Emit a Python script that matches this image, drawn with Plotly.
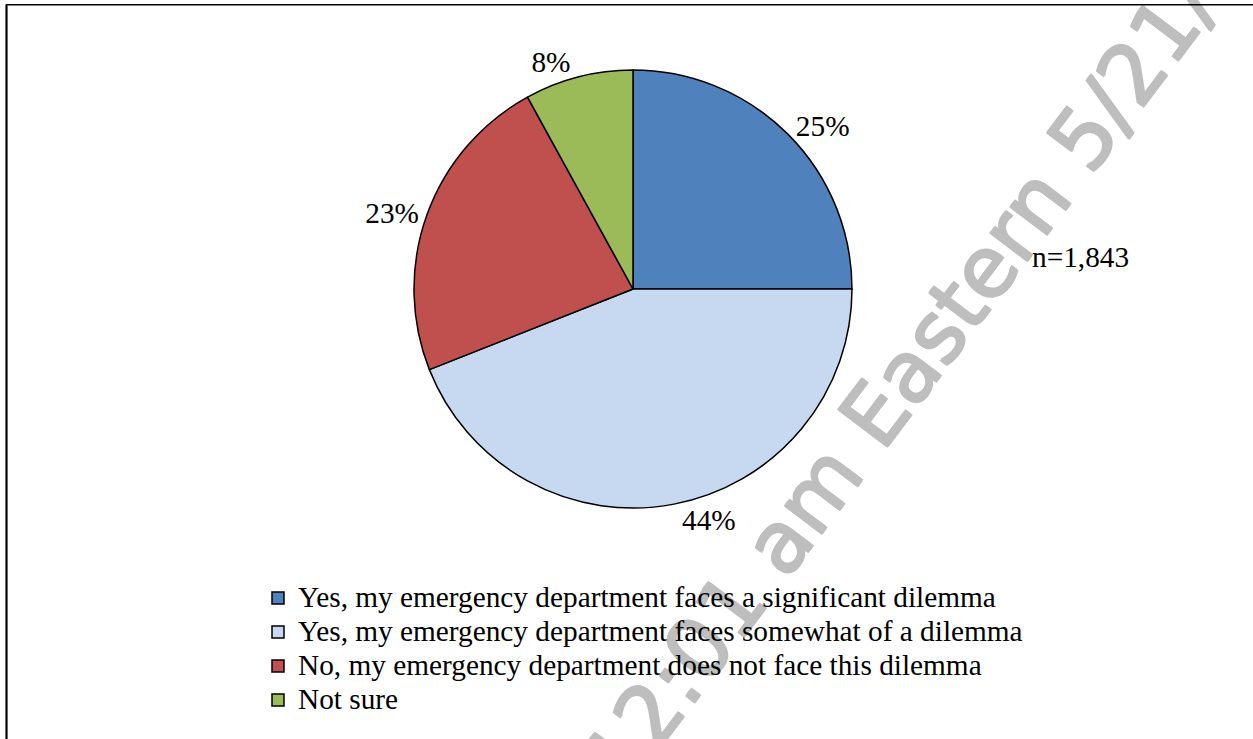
import plotly.graph_objects as go

W, H = 1253, 739

categories = [
    "Yes, my emergency department faces a significant dilemma",
    "Yes, my emergency department faces somewhat of a dilemma",
    "No, my emergency department does not face this dilemma",
    "Not sure",
]
percents = [25, 44, 23, 8]
colors = ["#4F81BD", "#C6D9F1", "#C0504D", "#9BBB59"]
sample_note = "n=1,843"
watermark = "12:01 am Eastern 5/21/1"

SERIF = "Liberation Serif, Times New Roman, serif"
TEXT_PX = 29.3          # size of all chart texts
LEGEND_ROW_PX = 23.85   # legend font size that gives the reference row pitch
WM_GREY = "#BEBEBE"

# pie geometry in pixels (center / radius)
cx, cy, r = 633, 289, 219
# watermark centre in pixels
wx, wy = 911, 357

legend_labels = [f"<span style='font-size:{TEXT_PX}px'>{c}</span>" for c in categories]

fig = go.Figure(
    go.Pie(
        labels=legend_labels,
        values=percents,
        sort=False,
        direction="clockwise",
        rotation=0,
        marker=dict(colors=colors, line=dict(color="black", width=1.5)),
        textinfo="percent",
        textposition="outside",
        texttemplate="%{percent:.0%}",
        outsidetextfont=dict(family=SERIF, size=TEXT_PX, color="black"),
        domain=dict(x=[(cx - r) / W, (cx + r) / W], y=[1 - (cy + r) / H, 1 - (cy - r) / H]),
        hovertemplate="%{label}<br>%{percent}<extra></extra>",
    )
)

shadow = ", ".join(f"{dx}px {dy}px 0 {WM_GREY}" for dx, dy in [(1, 1), (-1, -1), (1, -1), (-1, 1)])

fig.update_layout(
    width=W,
    height=H,
    margin=dict(l=0, r=0, t=0, b=0),
    paper_bgcolor="white",
    plot_bgcolor="white",
    font=dict(family=SERIF, size=TEXT_PX, color="black"),
    showlegend=True,
    legend=dict(
        x=258 / W,
        y=1 - 576 / H,
        xanchor="left",
        yanchor="top",
        font=dict(family=SERIF, size=LEGEND_ROW_PX, color="black"),
        bgcolor="rgba(0,0,0,0)",
        borderwidth=0,
        itemwidth=30,
        traceorder="normal",
    ),
    annotations=[
        dict(
            text=sample_note,
            x=1030 / W,
            y=1 - 257 / H,
            xref="paper",
            yref="paper",
            xanchor="left",
            yanchor="middle",
            showarrow=False,
            font=dict(family=SERIF, size=TEXT_PX, color="black"),
        ),
    ],
    shapes=[
        # watermark: drawn above the pie but below the legend text
        dict(
            type="rect", xref="paper", yref="paper", layer="above",
            x0=(wx - 1) / W, x1=(wx + 1) / W, y0=1 - (wy + 1) / H, y1=1 - (wy - 1) / H,
            line=dict(width=0), fillcolor="rgba(0,0,0,0)",
            label=dict(
                text=watermark,
                textposition="middle center",
                textangle=-53,
                xanchor="center",
                yanchor="middle",
                font=dict(family="DejaVu Sans, Liberation Sans, Arial, sans-serif", size=84,
                          color=WM_GREY, shadow=shadow),
            ),
        ),
        dict(type="line", xref="paper", yref="paper", x0=6.5 / W, x1=6.5 / W, y0=-0.05, y1=1 - 4.5 / H,
             line=dict(color="black", width=2.2)),
        dict(type="line", xref="paper", yref="paper", x0=6 / W, x1=1.05, y0=1 - 4.7 / H, y1=1 - 4.7 / H,
             line=dict(color="black", width=1.5)),
    ],
)

fig.write_html(
    "out.html",
    config={"displayModeBar": False},
    post_script="document.body.style.margin='0';document.body.style.overflow='hidden';",
)
